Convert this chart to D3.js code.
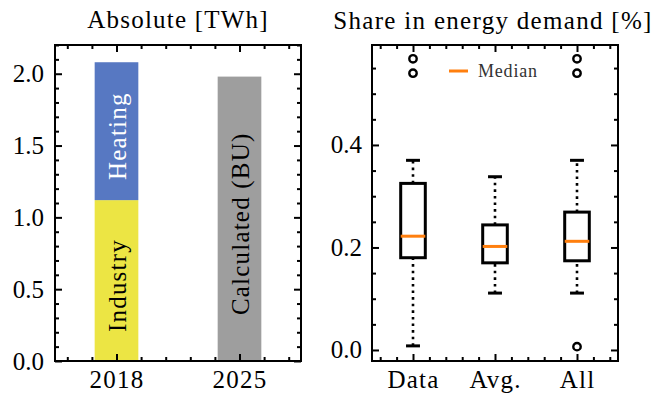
<!DOCTYPE html>
<html>
<head>
<meta charset="utf-8">
<script src="https://cdn.jsdelivr.net/npm/d3@7"></script>
<style>
  body { margin: 0; background: #fff; }
  text { font-family: "Liberation Serif", "Times New Roman", serif; fill: #000; }
  .tick line { stroke: #000; stroke-width: 2; }
</style>
</head>
<body>
<svg id="chart"></svg>
<script>
// left panel data
var years = ["2018", "2025"];
var industry = [1.12, 0];
var heating = [0.96, 0];
var calculated = [0, 1.98];

// right panel data (box statistics)
var boxLabels = ["Data", "Avg.", "All"];
var whiskLo = [0.008, 0.111, 0.111];
var q1 = [0.18, 0.17, 0.174];
var median = [0.222, 0.202, 0.212];
var q3 = [0.325, 0.244, 0.269];
var whiskHi = [0.37, 0.338, 0.37];
var fliers = [[0.54, 0.568], [], [0.0065, 0.54, 0.568]];

var screen = { width: 656, height: 394 };
var graph = { width: 246, height: 316 };
var leftPos = { x: 55, y: 45 };
var rightPos = { x: 372, y: 45 };

var svg = d3.select("#chart").attr("width", screen.width).attr("height", screen.height);

var minorRange = function (lo, hi, step, majors) {
  return d3.range(Math.round((hi - lo) / step) + 1)
    .map(function (i) { return +(lo + i * step).toFixed(4); })
    .filter(function (v) { return majors.indexOf(v) < 0; });
};

var drawFrame = function (g, xScale, yScale, xMajor, xMinor, yMajor, yMinor, xFmt, yFmt, yPad) {
  var bottom = g.append("g").attr("transform", "translate(0," + graph.height + ")");
  bottom.call(d3.axisBottom(xScale).tickValues(xMajor).tickSize(-7).tickPadding(9).tickFormat(xFmt));
  bottom.append("g").call(d3.axisBottom(xScale).tickValues(xMinor).tickSize(-4).tickFormat(""));
  var top = g.append("g");
  top.call(d3.axisTop(xScale).tickValues(xMajor).tickSize(-7).tickFormat(""));
  top.append("g").call(d3.axisTop(xScale).tickValues(xMinor).tickSize(-4).tickFormat(""));
  var left = g.append("g");
  left.call(d3.axisLeft(yScale).tickValues(yMajor).tickSize(-7).tickPadding(yPad).tickFormat(yFmt));
  left.append("g").call(d3.axisLeft(yScale).tickValues(yMinor).tickSize(-4).tickFormat(""));
  var right = g.append("g").attr("transform", "translate(" + graph.width + ",0)");
  right.call(d3.axisRight(yScale).tickValues(yMajor).tickSize(-7).tickFormat(""));
  right.append("g").call(d3.axisRight(yScale).tickValues(yMinor).tickSize(-4).tickFormat(""));

  g.selectAll(".domain").remove();
  g.selectAll(".tick text").attr("font-size", 25).attr("font-family", "Liberation Serif, serif");
  bottom.selectAll(".tick text").style("letter-spacing", "1.2px");

  g.append("rect")
    .attr("width", graph.width)
    .attr("height", graph.height)
    .attr("fill", "none")
    .attr("stroke", "#000")
    .attr("stroke-width", 2);
};

//left panel: stacked bars
var gl = svg.append("g").attr("transform", "translate(" + leftPos.x + "," + leftPos.y + ")");
var xl = d3.scaleLinear().domain([-0.5, 1.5]).range([0, graph.width]);
var yl = d3.scaleLinear().domain([0, 2.2]).range([graph.height, 0]);
var barW = 0.355;

var segments = [];
years.forEach(function (y, i) {
  var base = 0;
  [
    { name: "Industry", v: industry[i], color: "#ece544", text: "#000" },
    { name: "Heating", v: heating[i], color: "#5778c2", text: "#fff" },
    { name: "Calculated (BU)", v: calculated[i], color: "#9e9e9e", text: "#000" }
  ].forEach(function (s) {
    if (s.v > 0) {
      segments.push({ i: i, lo: base, hi: base + s.v, name: s.name, color: s.color, text: s.text });
      base += s.v;
    }
  });
});

gl.selectAll("rect.bar")
  .data(segments)
  .enter()
  .append("rect")
  .classed("bar", true)
  .attr("x", function (d) { return xl(d.i - barW / 2); })
  .attr("width", xl(barW) - xl(0))
  .attr("y", function (d) { return yl(d.hi); })
  .attr("height", function (d) { return yl(d.lo) - yl(d.hi); })
  .attr("fill", function (d) { return d.color; });

gl.selectAll("text.barlabel")
  .data(segments)
  .enter()
  .append("text")
  .classed("barlabel", true)
  .text(function (d) { return d.name; })
  .attr("text-anchor", "middle")
  .attr("font-size", 25)
  .style("letter-spacing", "1.2px")
  .attr("dy", "0.36em")
  .style("fill", function (d) { return d.text; })
  .attr("transform", function (d) {
    return "translate(" + xl(d.i) + "," + ((yl(d.lo) + yl(d.hi)) / 2 + 5) + ") rotate(-90)";
  });

drawFrame(gl, xl, yl, [0, 1], minorRange(-0.4, 1.4, 0.2, [0, 1]),
  [0, 0.5, 1, 1.5, 2], minorRange(0, 2.2, 0.1, [0, 0.5, 1, 1.5, 2]),
  function (i) { return years[i]; }, d3.format(".1f"), 11);

//right panel: box plots
var gr = svg.append("g").attr("transform", "translate(" + rightPos.x + "," + rightPos.y + ")");
var xr = d3.scaleLinear().domain([0.5, 3.5]).range([0, graph.width]);
var yr = d3.scaleLinear().domain([-0.0215, 0.595]).range([graph.height, 0]);
var boxW = 0.3;
var capW = 0.17;

var boxes = boxLabels.map(function (lab, i) {
  return { pos: i + 1, lo: whiskLo[i], q1: q1[i], med: median[i], q3: q3[i], hi: whiskHi[i], fl: fliers[i] };
});

var bg = gr.selectAll("g.box").data(boxes).enter().append("g").classed("box", true);

// whiskers
[["lo", "q1"], ["q3", "hi"]].forEach(function (p) {
  bg.append("line")
    .attr("x1", function (d) { return xr(d.pos); })
    .attr("x2", function (d) { return xr(d.pos); })
    .attr("y1", function (d) { return yr(d[p[0]]); })
    .attr("y2", function (d) { return yr(d[p[1]]); })
    .attr("stroke", "#000")
    .attr("stroke-width", 2.6)
    .attr("stroke-dasharray", "2.6,4");
});

// caps
["lo", "hi"].forEach(function (k) {
  bg.append("line")
    .attr("x1", function (d) { return xr(d.pos - capW / 2); })
    .attr("x2", function (d) { return xr(d.pos + capW / 2); })
    .attr("y1", function (d) { return yr(d[k]); })
    .attr("y2", function (d) { return yr(d[k]); })
    .attr("stroke", "#000")
    .attr("stroke-width", 3);
});

bg.append("rect")
  .attr("x", function (d) { return xr(d.pos - boxW / 2); })
  .attr("width", xr(boxW) - xr(0))
  .attr("y", function (d) { return yr(d.q3); })
  .attr("height", function (d) { return yr(d.q1) - yr(d.q3); })
  .attr("fill", "none")
  .attr("stroke", "#000")
  .attr("stroke-width", 3);

bg.append("line")
  .attr("x1", function (d) { return xr(d.pos - boxW / 2); })
  .attr("x2", function (d) { return xr(d.pos + boxW / 2); })
  .attr("y1", function (d) { return yr(d.med); })
  .attr("y2", function (d) { return yr(d.med); })
  .attr("stroke", "#ff7f0e")
  .attr("stroke-width", 3);

bg.each(function (d) {
  d3.select(this).selectAll("circle")
    .data(d.fl)
    .enter()
    .append("circle")
    .attr("cx", xr(d.pos))
    .attr("cy", function (v) { return yr(v); })
    .attr("r", 3.7)
    .attr("fill", "none")
    .attr("stroke", "#000")
    .attr("stroke-width", 2.4);
});

drawFrame(gr, xr, yr, [1, 2, 3], minorRange(0.6, 3.4, 0.2, [1, 2, 3]),
  [0, 0.2, 0.4], minorRange(0, 0.55, 0.05, [0, 0.2, 0.4]),
  function (v) { return boxLabels[v - 1]; }, d3.format(".1f"), 10);

// legend
var legend = gr.append("g").attr("transform", "translate(" + (449 - rightPos.x) + "," + (71 - rightPos.y) + ")");
legend.append("line").attr("x1", 0).attr("x2", 19).attr("stroke", "#ff7f0e").attr("stroke-width", 3);
legend.append("text")
  .text("Median")
  .attr("x", 29)
  .attr("y", 5.5)
  .attr("font-size", 18)
  .style("letter-spacing", "0.8px")
  .style("fill", "#333");

// titles
svg.append("text")
  .text("Absolute [TWh]")
  .attr("text-anchor", "middle")
  .attr("x", leftPos.x + graph.width / 2)
  .attr("y", 28)
  .attr("font-size", 25)
  .style("letter-spacing", "1.2px");

svg.append("text")
  .text("Share in energy demand [%]")
  .attr("text-anchor", "middle")
  .attr("x", rightPos.x + graph.width / 2 - 2)
  .attr("y", 29)
  .attr("font-size", 25)
  .style("letter-spacing", "1.3px");
</script>
</body>
</html>
